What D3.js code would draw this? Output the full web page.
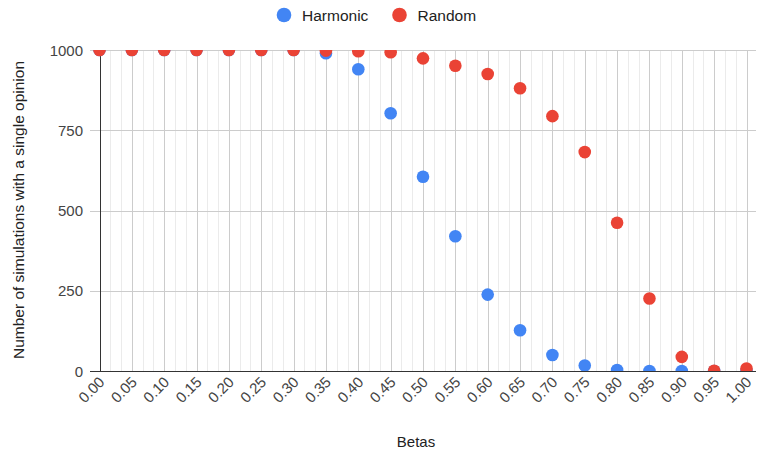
<!DOCTYPE html>
<html>
<head>
<meta charset="utf-8">
<script src="https://cdn.jsdelivr.net/npm/d3@7"></script>
<style>
  html, body { margin: 0; padding: 0; background: #fff; }
  svg { display: block; font-family: Arial, "Liberation Sans", sans-serif; }
</style>
</head>
<body>
<svg id="chart" width="757" height="452"></svg>
<script>
// Beta values on the x axis
const betas = [0.00, 0.05, 0.10, 0.15, 0.20, 0.25, 0.30, 0.35, 0.40, 0.45, 0.50,
               0.55, 0.60, 0.65, 0.70, 0.75, 0.80, 0.85, 0.90, 0.95, 1.00];
// Number of simulations (out of 1000) that ended with a single opinion
const harmonic = [1000, 1000, 1000, 1000, 1000, 1000, 1000, 990, 940, 803, 605,
                  420, 238, 127, 50, 17, 3, 0, 0, 0, 0];
const random   = [1000, 1000, 1000, 1000, 1000, 1000, 1000, 998, 996, 993, 974,
                  951, 925, 881, 794, 682, 462, 226, 44, 1, 8];
const yTicks = [0, 250, 500, 750, 1000];
const seriesNames = ["Harmonic", "Random"];
const seriesColors = ["#4285F4", "#EA4335"];

const svg = d3.select("#chart");
const plotLeft = 99.5, plotRight = 746.5, plotTop = 50, plotBottom = 371;
const areaLeft = 90, areaRight = 756;

const x = d3.scaleLinear().domain([0, 1]).range([plotLeft, plotRight]);
const y = d3.scaleLinear().domain([0, 1000]).range([plotBottom, plotTop]);

// clip region for the plot area
svg.append("defs").append("clipPath").attr("id", "plotClip")
  .append("rect").attr("x", areaLeft).attr("y", plotTop)
  .attr("width", areaRight - areaLeft).attr("height", plotBottom - plotTop);

const grid = svg.append("g");
// minor vertical gridlines (two between each major)
const minor = [];
for (let i = 0; i < betas.length - 1; i++) {
  const step = (betas[i + 1] - betas[i]) / 3;
  minor.push(betas[i] + step, betas[i] + 2 * step);
}
grid.selectAll("line.minor").data(minor).join("line")
  .attr("x1", d => Math.round(x(d)) + 0.5).attr("x2", d => Math.round(x(d)) + 0.5)
  .attr("y1", plotTop).attr("y2", plotBottom)
  .attr("stroke", "#ebebeb").attr("stroke-width", 1);
// major vertical gridlines
grid.selectAll("line.vmajor").data(betas.slice(1)).join("line")
  .attr("x1", d => Math.round(x(d)) + 0.5).attr("x2", d => Math.round(x(d)) + 0.5)
  .attr("y1", plotTop).attr("y2", plotBottom)
  .attr("stroke", "#cccccc").attr("stroke-width", 1);
// horizontal gridlines
grid.selectAll("line.h").data(yTicks.slice(1)).join("line")
  .attr("x1", areaLeft).attr("x2", areaRight)
  .attr("y1", d => Math.round(y(d)) + 0.5).attr("y2", d => Math.round(y(d)) + 0.5)
  .attr("stroke", "#cccccc").attr("stroke-width", 1);

// baselines
svg.append("line")
  .attr("x1", Math.round(x(0)) + 0.5).attr("x2", Math.round(x(0)) + 0.5)
  .attr("y1", plotTop).attr("y2", plotBottom)
  .attr("stroke", "#333").attr("stroke-width", 1);
svg.append("line")
  .attr("x1", areaLeft).attr("x2", areaRight)
  .attr("y1", plotBottom + 0.5).attr("y2", plotBottom + 0.5)
  .attr("stroke", "#333").attr("stroke-width", 1.2);

// y tick labels
svg.append("g").selectAll("text").data(yTicks).join("text")
  .attr("x", 83).attr("y", d => y(d) + 5.5)
  .attr("text-anchor", "end").attr("font-size", 15).attr("fill", "#444")
  .text(d => d);

// x tick labels, rotated
svg.append("g").selectAll("text").data(betas).join("text")
  .attr("transform", d => `translate(${x(d) + 6},${plotBottom + 12}) rotate(-45)`)
  .attr("text-anchor", "end").attr("font-size", 15).attr("fill", "#444")
  .text(d => d3.format(".2f")(d));

// points
const plot = svg.append("g").attr("clip-path", "url(#plotClip)");
[harmonic, random].forEach((vals, si) => {
  plot.append("g").selectAll("circle").data(vals).join("circle")
    .attr("cx", (d, i) => x(betas[i]))
    .attr("cy", d => y(d))
    .attr("r", 6.3)
    .attr("fill", seriesColors[si]);
});

// axis titles
svg.append("text").attr("x", 416).attr("y", 447)
  .attr("text-anchor", "middle").attr("font-size", 15).attr("fill", "#222")
  .text("Betas");
svg.append("text")
  .attr("transform", `translate(24,210) rotate(-90)`)
  .attr("text-anchor", "middle").attr("font-size", 15.5).attr("fill", "#222")
  .text("Number of simulations with a single opinion");

// legend
const legendX = [284, 399.5];
const legend = svg.append("g");
seriesNames.forEach((name, i) => {
  legend.append("circle").attr("cx", legendX[i]).attr("cy", 15).attr("r", 7.3)
    .attr("fill", seriesColors[i]);
  legend.append("text").attr("x", legendX[i] + 18).attr("y", 20.5)
    .attr("font-size", 15.5).attr("fill", "#222").text(name);
});
</script>
</body>
</html>
